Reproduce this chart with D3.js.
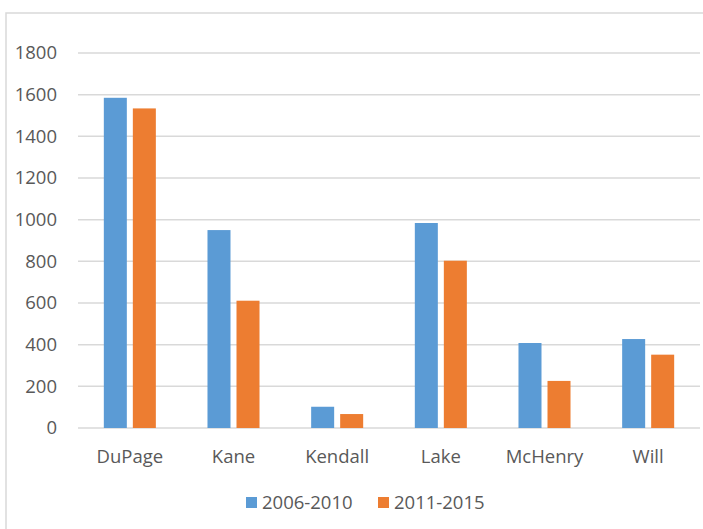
<!DOCTYPE html>
<html>
<head>
<meta charset="utf-8">
<script src="https://cdn.jsdelivr.net/npm/d3@7"></script>
<style>
  body { margin: 0; background: #fff; }
  text { font-family: "Open Sans", sans-serif; fill: #595959; }
</style>
</head>
<body>
<div id="vis"></div>
<script>
const counties = ["DuPage", "Kane", "Kendall", "Lake", "McHenry", "Will"];
const series = ["2006-2010", "2011-2015"];
const values2006 = [1585, 950, 102, 984, 408, 427];
const values2011 = [1534, 611, 67, 803, 226, 352];
const yTicks = [0, 200, 400, 600, 800, 1000, 1200, 1400, 1600, 1800];
const colors = ["#5b9bd5", "#ed7d31"];

const W = 703, H = 529;
const margin = { top: 53, right: 3, bottom: 101, left: 78 };

const svg = d3.select("#vis").append("svg")
  .attr("width", W)
  .attr("height", H);

// chart frame
svg.append("rect")
  .attr("x", 6).attr("y", 13)
  .attr("width", W + 10).attr("height", H + 10)
  .attr("fill", "none")
  .attr("stroke", "#d9d9d9")
  .attr("stroke-width", 1.5);

const x = d3.scaleBand()
  .domain(counties)
  .range([margin.left, W - margin.right]);

const x1 = d3.scaleBand()
  .domain(series)
  .range([0, x.bandwidth()])
  .paddingInner(0.207)
  .paddingOuter(0.89);

const y = d3.scaleLinear()
  .domain([0, 1800])
  .range([H - margin.bottom, margin.top]);

// gridlines
svg.append("g")
  .selectAll("line")
  .data(yTicks)
  .join("line")
  .attr("x1", margin.left)
  .attr("x2", W - margin.right)
  .attr("y1", d => y(d))
  .attr("y2", d => y(d))
  .attr("stroke", "#d9d9d9")
  .attr("stroke-width", 1.5);

// y tick labels
svg.append("g")
  .selectAll("text")
  .data(yTicks)
  .join("text")
  .attr("x", 57)
  .attr("y", d => y(d))
  .attr("dy", "0.35em")
  .attr("text-anchor", "end")
  .attr("font-size", 18.5)
  .text(d => d);

const rows = counties.map((c, i) => ({ county: c, vals: [values2006[i], values2011[i]] }));

const groups = svg.append("g")
  .selectAll("g")
  .data(rows)
  .join("g")
  .attr("transform", d => `translate(${x(d.county)},0)`);

groups.selectAll("rect")
  .data(d => d.vals.map((v, j) => ({ key: series[j], value: v, j })))
  .join("rect")
  .attr("x", d => x1(d.key))
  .attr("width", x1.bandwidth())
  .attr("y", d => y(d.value))
  .attr("height", d => y(0) - y(d.value))
  .attr("fill", d => colors[d.j]);

// category labels
svg.append("g")
  .selectAll("text")
  .data(counties)
  .join("text")
  .attr("x", d => x(d) + x.bandwidth() / 2)
  .attr("y", 457)
  .attr("dy", "0.35em")
  .attr("text-anchor", "middle")
  .attr("font-size", 18.5)
  .text(d => d);

// legend
const legend = svg.append("g");
const legendX = [246, 378];
series.forEach((s, i) => {
  legend.append("rect")
    .attr("x", legendX[i])
    .attr("y", 497)
    .attr("width", 11)
    .attr("height", 11)
    .attr("fill", colors[i]);
  legend.append("text")
    .attr("x", legendX[i] + 16)
    .attr("y", 503)
    .attr("dy", "0.35em")
    .attr("font-size", 18.5)
    .text(s);
});
</script>
</body>
</html>
